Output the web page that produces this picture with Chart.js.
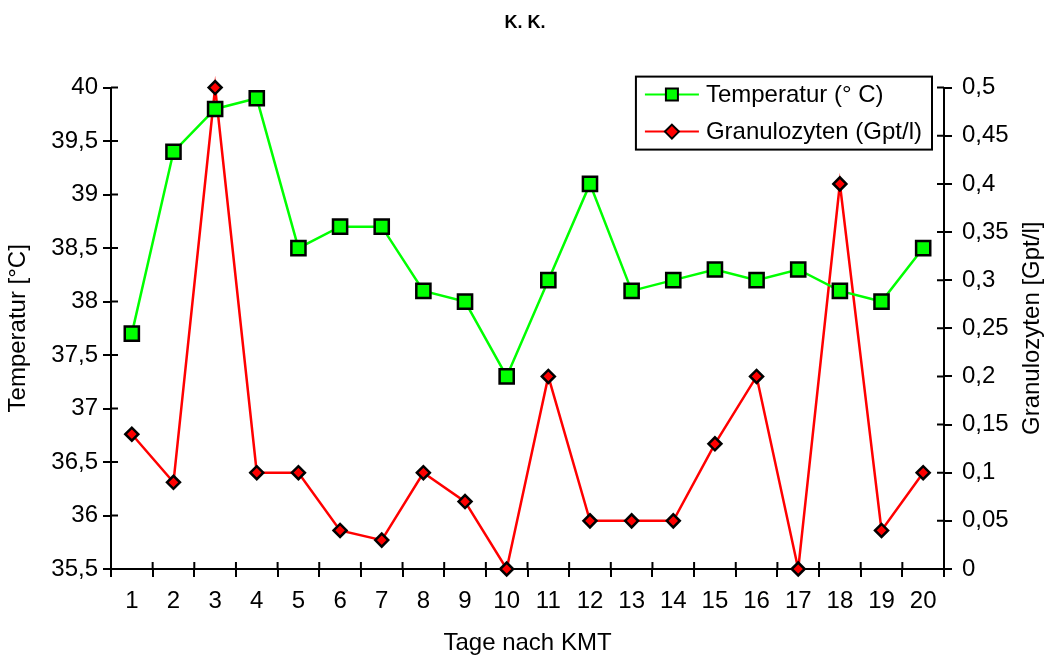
<!DOCTYPE html>
<html>
<head>
<meta charset="utf-8">
<script src="https://cdn.jsdelivr.net/npm/chart.js@4.4.0/dist/chart.umd.min.js"></script>
<style>
  body { margin: 0; background: #fff; }
  #wrap { width: 1050px; height: 662px; }
</style>
</head>
<body>
<div id="wrap"><canvas id="kkChart"></canvas></div>
<script>
// Tage nach KMT
const tage = ['1', '2', '3', '4', '5', '6', '7', '8', '9', '10',
              '11', '12', '13', '14', '15', '16', '17', '18', '19', '20'];
const temperatur = [37.7, 39.4, 39.8, 39.9, 38.5, 38.7, 38.7, 38.1, 38.0, 37.3,
                    38.2, 39.1, 38.1, 38.2, 38.3, 38.2, 38.3, 38.1, 38.0, 38.5];
const granulozyten = [0.14, 0.09, 0.5, 0.1, 0.1, 0.04, 0.03, 0.1, 0.07, 0,
                      0.2, 0.05, 0.05, 0.05, 0.13, 0.2, 0, 0.4, 0.04, 0.1];
const seriesNames = ['Temperatur (° C)', 'Granulozyten (Gpt/l)'];

const FONT = 'Liberation Sans, Arial, sans-serif';
Chart.defaults.font.family = FONT;
Chart.defaults.font.size = 24;
Chart.defaults.color = '#000';

function komma(v) {
    return String(Math.round(v * 100) / 100).replace('.', ',');
}

// ticks that cross the axis line, right axis title, legend box
const extras = {
    id: 'extras',
    afterDraw(chart) {
        const ctx = chart.ctx;
        const a = chart.chartArea;
        const x = chart.scales.x, y = chart.scales.y, y2 = chart.scales.y2;
        ctx.save();
        ctx.strokeStyle = '#000';
        ctx.lineWidth = 2;
        ctx.beginPath();
        const n = x.ticks.length;
        const step = (a.right - a.left) / n;
        for (let i = 0; i <= n; i++) {
            const px = a.left + i * step;
            ctx.moveTo(px, a.bottom);
            ctx.lineTo(px, a.bottom - 7);
        }
        y.ticks.forEach((t, i) => {
            const py = y.getPixelForTick(i);
            ctx.moveTo(a.left, py);
            ctx.lineTo(a.left + 7, py);
        });
        y2.ticks.forEach((t, i) => {
            const py = y2.getPixelForTick(i);
            ctx.moveTo(a.right, py);
            ctx.lineTo(a.right - 7, py);
        });
        ctx.stroke();

        // right axis title, reading bottom to top
        ctx.font = '24px ' + FONT;
        ctx.fillStyle = '#000';
        ctx.textAlign = 'center';
        ctx.textBaseline = 'middle';
        ctx.translate(y2.right - 18, (a.top + a.bottom) / 2);
        ctx.rotate(-Math.PI / 2);
        ctx.fillText('Granulozyten [Gpt/l]', 0, 0);
        ctx.restore();

        // legend
        ctx.save();
        ctx.font = '24px ' + FONT;
        const tw = Math.max(...seriesNames.map(s => ctx.measureText(s).width));
        const w = 70 + tw + 10, h = 73;
        const left = a.right - 12 - w, top = a.top - 11;
        ctx.fillStyle = '#fff';
        ctx.fillRect(left, top, w, h);
        ctx.strokeStyle = '#000';
        ctx.lineWidth = 2;
        ctx.strokeRect(left, top, w, h);
        chart.data.datasets.forEach((ds, i) => {
            const cy = top + 18 + i * 37;
            ctx.strokeStyle = ds.borderColor;
            ctx.lineWidth = 2;
            ctx.beginPath();
            ctx.moveTo(left + 9, cy);
            ctx.lineTo(left + 63, cy);
            ctx.stroke();
            ctx.fillStyle = ds.pointBackgroundColor;
            ctx.strokeStyle = '#000';
            ctx.lineWidth = 2;
            ctx.beginPath();
            const cx = left + 36;
            if (ds.pointStyle === 'rect') {
                ctx.rect(cx - 6, cy - 6, 12, 12);
            } else {
                ctx.moveTo(cx, cy - 7);
                ctx.lineTo(cx + 7, cy);
                ctx.lineTo(cx, cy + 7);
                ctx.lineTo(cx - 7, cy);
                ctx.closePath();
            }
            ctx.fill();
            ctx.stroke();
            ctx.fillStyle = '#000';
            ctx.textAlign = 'left';
            ctx.textBaseline = 'middle';
            ctx.fillText(seriesNames[i], left + 70, cy + 1);
        });
        ctx.restore();
    }
};

const ctx = document.getElementById('kkChart').getContext('2d');
const kkChart = new Chart(ctx, {
    type: 'line',
    data: {
        labels: tage,
        datasets: [{
            label: seriesNames[0],
            data: temperatur,
            yAxisID: 'y',
            clip: false,
            borderColor: '#00ff00',
            borderWidth: 2.5,
            pointStyle: 'rect',
            pointRadius: 10,
            pointBackgroundColor: '#00ff00',
            pointBorderColor: '#000',
            pointBorderWidth: 2.5,
            tension: 0
        }, {
            label: seriesNames[1],
            data: granulozyten,
            yAxisID: 'y2',
            clip: false,
            borderColor: '#ff0000',
            borderWidth: 2.5,
            pointStyle: 'rectRot',
            pointRadius: 6.5,
            pointBackgroundColor: '#ff0000',
            pointBorderColor: '#000',
            pointBorderWidth: 2.5,
            tension: 0
        }]
    },
    options: {
        responsive: true,
        maintainAspectRatio: false,
        animation: false,
        layout: { padding: { top: 0, right: 0, bottom: 0, left: 0 } },
        plugins: {
            legend: { display: false },
            tooltip: { enabled: false },
            title: {
                display: true,
                text: 'K. K.',
                color: '#000',
                font: { family: 'Liberation Sans Narrow, Liberation Sans, Arial', weight: 'bold', size: 18 },
                padding: { top: 12, bottom: 54 }
            }
        },
        scales: {
            x: {
                offset: true,
                grid: { offset: true, drawOnChartArea: false, color: '#000', lineWidth: 2, tickLength: 8 },
                border: { color: '#000', width: 2 },
                ticks: { padding: 10, maxRotation: 0, autoSkip: false },
                title: { display: true, text: 'Tage nach KMT', padding: { top: 4, bottom: 4 } },
                afterFit: s => { s.height = 93; }
            },
            y: {
                position: 'left',
                min: 35.5,
                max: 40,
                grid: { drawOnChartArea: false, color: '#000', lineWidth: 2, tickLength: 8 },
                border: { color: '#000', width: 2 },
                ticks: { stepSize: 0.5, padding: 5, callback: v => komma(v) },
                title: { display: true, text: 'Temperatur [°C]', padding: { top: 4, bottom: 4 } },
                afterFit: s => { s.width = 111; }
            },
            y2: {
                position: 'right',
                min: 0,
                max: 0.5,
                grid: { drawOnChartArea: false, color: '#000', lineWidth: 2, tickLength: 8 },
                border: { color: '#000', width: 2 },
                ticks: { stepSize: 0.05, padding: 10, callback: v => komma(v) },
                afterFit: s => { s.width = 106; }
            }
        }
    },
    plugins: [extras]
});
</script>
</body>
</html>
